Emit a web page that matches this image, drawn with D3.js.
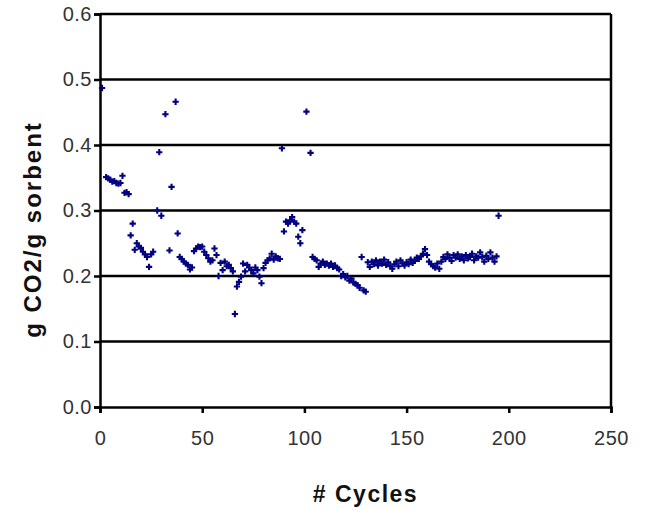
<!DOCTYPE html>
<html>
<head>
<meta charset="utf-8">
<script src="https://cdn.jsdelivr.net/npm/d3@7"></script>
<style>
  body { margin: 0; background: #fff; }
  text { font-family: Arial, "Liberation Sans", sans-serif; }
</style>
</head>
<body>
<div id="chart"></div>
<script>
// Data: cycle number and uptake (g CO2 / g sorbent)
var cycles = [1, 3, 4, 5, 6, 7, 8, 9, 10, 11, 12, 13, 14, 15, 16, 17, 18, 19, 20,
  21, 22, 23, 24, 25, 26, 28, 29, 30, 32, 34, 35, 37, 38, 39, 40,
  41, 42, 43, 44, 45, 46, 47, 48, 49, 50, 51, 52, 53, 54, 55, 56, 57, 58, 59, 60,
  61, 62, 63, 64, 65, 66, 67, 68, 69, 70, 71, 72, 73, 74, 75, 76, 77, 78, 79, 80,
  81, 82, 83, 84, 85, 86, 87, 88, 89, 90, 91, 92, 93, 94, 95, 96, 97, 98, 99, 101,
  103, 104, 105, 106, 107, 108, 109, 110, 111, 112, 113, 114, 115, 116, 117, 118, 119, 120,
  121, 122, 123, 124, 125, 126, 127, 128, 129, 130,
  131, 132, 133, 134, 135, 136, 137, 138, 139, 140, 141, 142, 143, 144, 145, 146, 147, 148, 149, 150,
  151, 152, 153, 154, 155, 156, 157, 158, 159, 160, 161, 162, 163, 164, 165, 166, 167, 168, 169, 170,
  171, 172, 173, 174, 175, 176, 177, 178, 179, 180, 181, 182, 183, 184, 185, 186, 187, 188, 189, 190,
  191, 192, 193, 194, 195];

var uptake = [0.487, 0.351, 0.349, 0.347, 0.344, 0.345, 0.342, 0.341, 0.342, 0.353, 0.327, 0.328, 0.325, 0.262, 0.280, 0.240, 0.250, 0.245, 0.243,
  0.237, 0.233, 0.229, 0.214, 0.233, 0.237, 0.300, 0.389, 0.292, 0.447, 0.239, 0.336, 0.466, 0.265, 0.229, 0.226,
  0.222, 0.219, 0.217, 0.210, 0.213, 0.238, 0.242, 0.245, 0.244, 0.245, 0.237, 0.232, 0.227, 0.222, 0.224, 0.242, 0.232, 0.200, 0.220, 0.209,
  0.222, 0.215, 0.217, 0.212, 0.207, 0.142, 0.184, 0.191, 0.199, 0.219, 0.207, 0.217, 0.213, 0.209, 0.204, 0.213, 0.209, 0.199, 0.189, 0.212,
  0.220, 0.224, 0.227, 0.234, 0.225, 0.230, 0.227, 0.226, 0.395, 0.268, 0.283, 0.280, 0.285, 0.290, 0.283, 0.280, 0.260, 0.250, 0.270, 0.451,
  0.388, 0.229, 0.226, 0.224, 0.214, 0.219, 0.222, 0.217, 0.219, 0.216, 0.219, 0.214, 0.216, 0.212, 0.210, 0.200, 0.203, 0.198,
  0.200, 0.193, 0.196, 0.190, 0.188, 0.186, 0.182, 0.229, 0.178, 0.176,
  0.221, 0.214, 0.222, 0.218, 0.224, 0.216, 0.222, 0.219, 0.225, 0.217, 0.221, 0.215, 0.211, 0.218, 0.222, 0.215, 0.224, 0.219, 0.216, 0.221,
  0.218, 0.225, 0.220, 0.223, 0.228, 0.226, 0.230, 0.234, 0.241, 0.232, 0.222, 0.218, 0.215, 0.213, 0.219, 0.211, 0.222, 0.229, 0.226, 0.233,
  0.228, 0.223, 0.232, 0.228, 0.233, 0.226, 0.230, 0.224, 0.232, 0.227, 0.229, 0.234, 0.224, 0.230, 0.228, 0.236, 0.229, 0.222, 0.231, 0.226,
  0.236, 0.228, 0.222, 0.230, 0.292];

var xTicks = [0, 50, 100, 150, 200, 250];
var yTicks = [0, 0.1, 0.2, 0.3, 0.4, 0.5, 0.6];

// Setup chart
var svgWidth = 651;
var svgHeight = 509;
var margin = { top: 14, right: 40, bottom: 102, left: 100 };
var width = svgWidth - margin.left - margin.right;
var height = svgHeight - margin.top - margin.bottom;

var svg = d3.select("#chart")
  .append("svg")
  .attr("width", svgWidth)
  .attr("height", svgHeight);

var chartGroup = svg.append("g")
  .attr("transform", `translate(${margin.left}, ${margin.top})`);

// Scales
var xScale = d3.scaleLinear().domain([0, 250]).range([0, width]);
var yScale = d3.scaleLinear().domain([0, 0.6]).range([height, 0]);

// Gridlines
chartGroup.selectAll(".grid")
  .data(yTicks.filter(d => d > 0))
  .enter().append("line")
  .attr("x1", 0).attr("x2", width)
  .attr("y1", d => yScale(d)).attr("y2", d => yScale(d))
  .attr("stroke", "#000").attr("stroke-width", 2.5);

// right border
chartGroup.append("line")
  .attr("x1", width).attr("x2", width)
  .attr("y1", 0).attr("y2", height)
  .attr("stroke", "#000").attr("stroke-width", 2.5);

// Axes
var bottomAxis = d3.axisBottom(xScale).tickValues(xTicks).tickSize(6).tickPadding(18).tickFormat(d3.format("d"));
var leftAxis = d3.axisLeft(yScale).tickValues(yTicks).tickSize(6).tickPadding(2).tickFormat(d3.format(".1f"));

var xAxisG = chartGroup.append("g")
  .attr("transform", `translate(0, ${height})`)
  .call(bottomAxis);

var yAxisG = chartGroup.append("g")
  .call(leftAxis);

[xAxisG, yAxisG].forEach(function(g) {
  g.select(".domain").attr("stroke", "#000").attr("stroke-width", 2.5);
  g.selectAll(".tick line").attr("stroke", "#000").attr("stroke-width", 2.5);
  g.selectAll(".tick text")
    .attr("fill", "#333")
    .style("font-size", "20px")
    .style("letter-spacing", "0.5px")
    .style("font-family", "Arial, 'Liberation Sans', sans-serif");
});

// Points
var points = cycles.map((c, i) => ({ c: c, v: uptake[i] }));
chartGroup.selectAll(".pt")
  .data(points)
  .enter().append("path")
  .attr("class", "pt")
  .attr("d", d3.symbol().type(d3.symbolCross).size(22))
  .attr("transform", d => `translate(${xScale(d.c)}, ${yScale(d.v)})`)
  .attr("fill", "#000080");

// Axis titles
svg.append("text")
  .attr("x", margin.left + width / 2 + 10)
  .attr("y", 502)
  .attr("text-anchor", "middle")
  .style("font-size", "23px")
  .style("font-weight", "bold")
  .style("letter-spacing", "1.5px")
  .attr("fill", "#111")
  .text("# Cycles");

svg.append("text")
  .attr("transform", `translate(41, ${margin.top + height / 2 + 19}) rotate(-90)`)
  .attr("text-anchor", "middle")
  .style("font-size", "24px")
  .style("font-weight", "bold")
  .style("letter-spacing", "2px")
  .attr("fill", "#111")
  .text("g CO2/g sorbent");
</script>
</body>
</html>
